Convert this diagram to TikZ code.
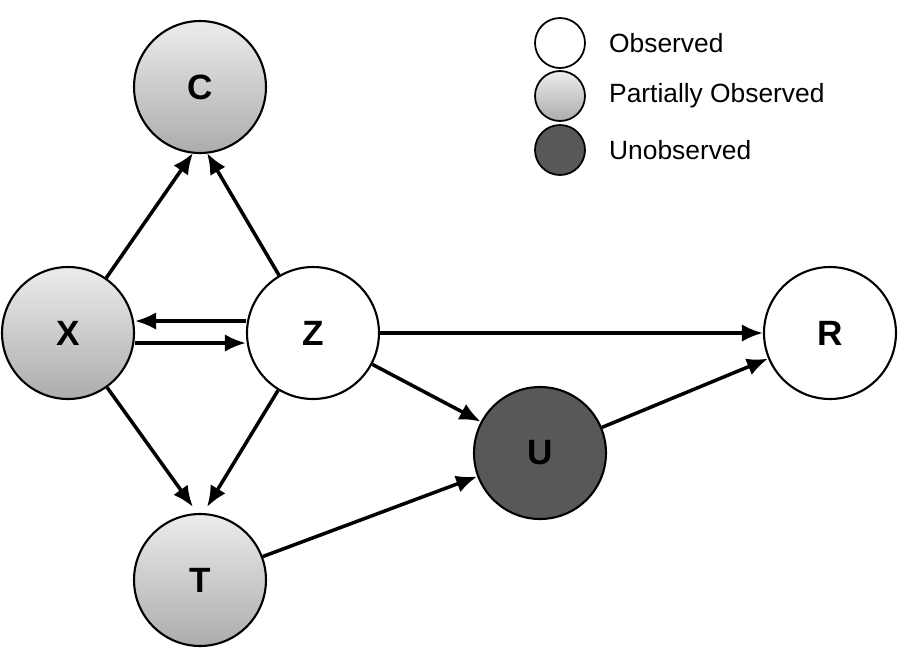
\documentclass[tikz,border=0pt]{standalone}
\usepackage{fontspec}
\setmainfont{Liberation Sans}
\usetikzlibrary{arrows.meta}
\definecolor{darkvar}{RGB}{88,88,88}

\tikzset{
  var/.style={circle, draw, line width=1.2pt, minimum size=2.64cm, inner sep=0pt, font=\fontsize{20}{24}\selectfont\bfseries},
  obs/.style={var, fill=white},
  part/.style={var, top color=gray!15, bottom color=gray!65},
  unobs/.style={var, fill=darkvar},
  key/.style={circle, draw, line width=1pt, minimum size=1.0cm, inner sep=0pt},
  keytext/.style={anchor=west, font=\fontsize{15}{18}\selectfont},
  link/.style={-{Latex[length=12pt,width=10pt]}, line width=2pt}
}

\begin{document}
\begin{tikzpicture}[x=0.02cm, y=-0.02cm]
  \useasboundingbox (0,0) rectangle (900,647);

  % Variables
  \node[part] (C) at (200,87) {C};
  \node[part] (X) at (68,333) {X};
  \node[obs] (Z) at (313,333) {Z};
  \node[part] (T) at (200,580) {T};
  \node[unobs] (U) at (540,453) {U};
  \node[obs] (R) at (830,333) {R};

  % Legend
  \node[key, fill=white] (k1) at (560,43) {};
  \node[key, top color=gray!15, bottom color=gray!65] (k2) at (560,96) {};
  \node[key, fill=darkvar] (k3) at (560,150) {};
  \node[keytext] (t1) at (603,43) {Observed};
  \node[keytext] (t2) at (603,96) {Partially Observed};
  \node[keytext] (t3) at (603,150) {Unobserved};

  % Anchor points
  \path
  (193,153) coordinate (cx)
  (207,153) coordinate (cz)
  (193,507) coordinate (tx)
  (207,507) coordinate (tz);

  % Edges
  \draw[link] (X) -- (cx);
  \draw[link] (Z) -- (cz);
  \draw[link] (X) -- (tx);
  \draw[link] (Z) -- (tz);
  \draw[link] ([yshift=0.24cm]Z.west) -- ([yshift=0.24cm]X.east);
  \draw[link] ([yshift=-0.2cm]X.east) -- ([yshift=-0.2cm]Z.west);
  \draw[link] (Z) -- (R);
  \draw[link] (Z) -- (U);
  \draw[link] (U) -- (R);
  \draw[link] (T) -- (U);
\end{tikzpicture}
\end{document}
